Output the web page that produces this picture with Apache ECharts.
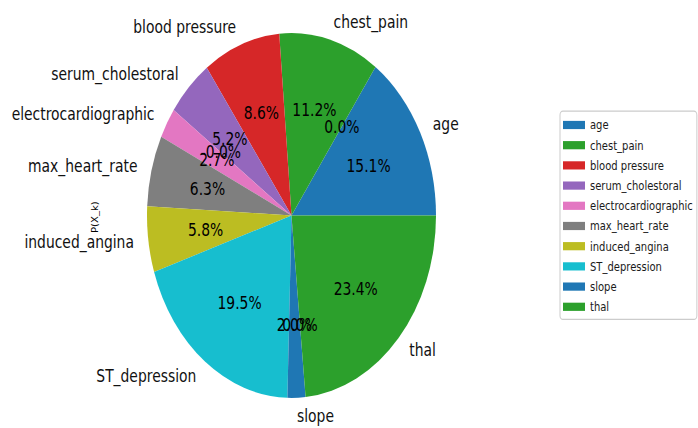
<!DOCTYPE html>
<html><head><meta charset="utf-8">
<script src="https://cdn.jsdelivr.net/npm/echarts@6/dist/echarts.min.js"></script>
<style>
html,body{margin:0;padding:0;background:#fff;overflow:hidden}
#wrap{width:698px;height:428px;overflow:hidden;position:relative;background:#fff}
#chart{width:698px;height:339px;transform:scaleY(1.2625);transform-origin:0 0}
</style></head><body><div id="wrap"><div id="chart"></div></div>
<script>
// Data (13 wedges; zero-valued wedges carry empty labels, as in the source plot)
const sliceNames = ['age','','chest_pain','blood pressure','serum_cholestoral','','electrocardiographic','max_heart_rate','induced_angina','ST_depression','slope','','thal'];
const sliceValues = [15.1, 0.0, 11.2, 8.6, 5.2, -0.0, 2.7, 6.3, 5.8, 19.5, 2.0, 0.0, 23.4];
const legendNames = ['age','chest_pain','blood pressure','serum_cholestoral','electrocardiographic','max_heart_rate','induced_angina','ST_depression','slope','thal'];
const yLabel = 'P(X_k)';

const tab10 = ['#1f77b4','#ff7f0e','#2ca02c','#d62728','#9467bd','#8c564b','#e377c2','#7f7f7f','#bcbd22','#17becf'];
const CX = 291.5, CY = 170.7, R = 144.5;
const LABEL_PAD = 3; // ECharts pushes pie labels 3px outward
const total = sliceValues.reduce((a, b) => a + b, 0);
function pctText(v) {
  const p = v / total * 100;
  return ((p < 0 || Object.is(p, -0)) ? '-' : '') + Math.abs(p).toFixed(1) + '%';
}
const base = sliceNames.map((n, i) => ({ name: n, value: sliceValues[i] }));
const carrier = sliceNames.map((n, i) => ({ name: n, value: sliceValues[i],
  itemStyle: { color: 'rgba(0,0,0,0)', borderWidth: 0 } }));
const FONT = 'DejaVu Sans';
const common = { type: 'pie', center: [CX, CY], startAngle: 0, clockwise: false, animation: false,
                 avoidLabelOverlap: false, stillShowZeroSum: true,
                 labelLine: { show: false }, emphasis: { disabled: true }, minShowLabelAngle: 0 };

const chart = echarts.init(document.getElementById('chart'), null, { renderer: 'svg' });
chart.setOption({
  animation: false,
  legend: {
    orient: 'vertical', left: 560, top: 88,
    data: legendNames, selectedMode: false,
    icon: 'rect', itemWidth: 22, itemHeight: 6.5, itemGap: 6,
    padding: [6, 4, 5, 3],
    borderColor: '#cccccc', borderWidth: 1, borderRadius: 3, backgroundColor: '#fff',
    textStyle: { fontSize: 10, fontFamily: FONT, color: '#1a1a1a' }
  },
  graphic: [{
    type: 'text', x: 95, y: 172, rotation: Math.PI / 2,
    style: { text: yLabel, fontSize: 8, fontFamily: FONT, fill: '#000', align: 'center', verticalAlign: 'middle' }
  }],
  series: [
    Object.assign({}, common, {
      name: 'slices', radius: [0, R],
      data: base.map((d, i) => Object.assign({}, d, { itemStyle: { color: tab10[i % 10], borderWidth: 0 } })),
      label: { show: false }
    }),
    Object.assign({}, common, {
      name: 'pct', radius: [0, 2 * (0.6 * R - LABEL_PAD)], silent: true,
      data: carrier,
      label: { show: true, position: 'inside', formatter: p => pctText(sliceValues[p.dataIndex]),
               fontSize: 13.9, fontFamily: FONT, color: '#000' },
      labelLayout: { hideOverlap: false }
    }),
    Object.assign({}, common, {
      name: 'names', radius: [0, 2 * (1.1 * R - LABEL_PAD)], silent: true,
      data: carrier,
      label: { show: true, position: 'inside', formatter: p => sliceNames[p.dataIndex],
               fontSize: 13.9, fontFamily: FONT, color: '#111' },
      labelLayout: function (params) {
        const r = params.labelRect;
        const ax = r.x + r.width / 2, ay = r.y + r.height / 2;
        return { x: ax, y: ay, align: ax > CX ? 'left' : 'right', verticalAlign: 'middle', hideOverlap: false };
      }
    })
  ]
});
</script></body></html>
